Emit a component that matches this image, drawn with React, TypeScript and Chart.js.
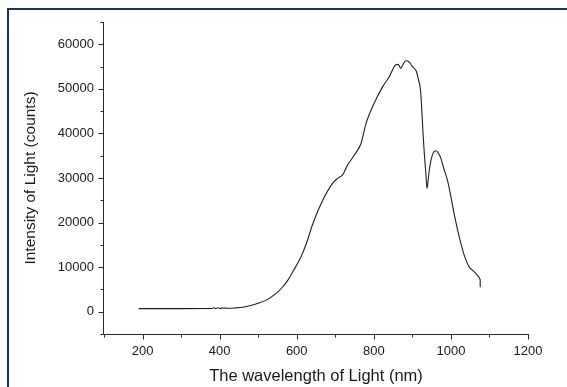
import React, { useEffect, useRef } from 'react';
import { Chart, registerables } from 'chart.js';

Chart.register(...registerables);

// Wavelength (nm)
const wavelengths = [
  190, 300, 380, 385, 390, 395, 400, 410, 420, 440, 460, 478, 500, 521, 545, 564,
  578, 590, 611, 625, 642, 668, 693, 706, 719, 732, 750, 767, 780, 801, 823, 840,
  857, 863, 870, 876, 883, 892, 900, 910, 916, 921, 924, 927, 931, 935, 938, 941,
  945, 952, 961, 968, 974, 982, 991, 1000, 1008, 1017, 1026, 1036, 1047, 1060, 1073, 1076,
  1076,
];
// Intensity (counts)
const intensities = [
  700, 700, 720, 900, 700, 900, 750, 850, 780, 850, 1000, 1350, 1900, 2600, 4000, 5600,
  7200, 9000, 12300, 15300, 19800, 25100, 28800, 29900, 30700, 32900, 35200, 37800, 42300, 46800, 50500, 52700,
  55400, 55500, 54600, 55500, 56300, 56000, 55000, 54000, 52000, 49800, 46000, 41000, 35500, 31000, 27700, 29500,
  32500, 35200, 36100, 35500, 34400, 32000, 29500, 25800, 22100, 18500, 15300, 12300, 10100, 9000, 7700, 7200,
  5500,
];

const X_MIN = 100;
const X_MAX = 1200;
const X_STEP = 100;
const X_MAJOR = 200;
const Y_MIN = -5000;
const Y_MAX = 65000;
const Y_STEP = 5000;
const Y_MAJOR = 10000;

const X_TITLE = 'The wavelength of Light (nm)';
const Y_TITLE = 'Intensity of Light (counts)';

const FONT = "'Liberation Sans', Arial, sans-serif";
const AXIS_COLOR = '#2a2a2a';

const decorPlugin = {
  id: 'decor',
  afterDraw(chart: any) {
    const ctx = chart.ctx;
    const { left, right, top, bottom } = chart.chartArea;
    const xs = chart.scales.x;
    const ys = chart.scales.y;
    ctx.save();
    ctx.strokeStyle = AXIS_COLOR;
    ctx.lineWidth = 1;
    ctx.beginPath();
    const lx = Math.round(left) - 0.5;
    const by = Math.round(bottom) + 0.5;
    ctx.moveTo(lx, Math.round(top));
    ctx.lineTo(lx, by);
    ctx.lineTo(Math.round(right) + 1, by);
    ys.ticks.forEach((t: any) => {
      const p = Math.round(ys.getPixelForValue(t.value)) + 0.5;
      const len = t.value % Y_MAJOR === 0 ? 5 : 3;
      ctx.moveTo(lx - len, p);
      ctx.lineTo(lx, p);
    });
    xs.ticks.forEach((t: any) => {
      const p = Math.round(xs.getPixelForValue(t.value)) + 0.5;
      const len = t.value % X_MAJOR === 0 ? 5 : 3;
      ctx.moveTo(p, by);
      ctx.lineTo(p, by + len);
    });
    ctx.stroke();
    ctx.fillStyle = '#1c2f6b';
    ctx.fillRect(7, 8, 560, 2);
    ctx.fillRect(7, 8, 2, 379);
    ctx.restore();
  },
};

export default function App() {
  const ref = useRef<HTMLCanvasElement | null>(null);

  useEffect(() => {
    if (!ref.current) return;
    const points = wavelengths.map((w, i) => ({ x: w, y: intensities[i] }));
    const chart = new Chart(ref.current, {
      type: 'line',
      data: {
        datasets: [
          {
            data: points,
            borderColor: '#1e1e1e',
            borderWidth: 1.1,
            pointRadius: 0,
            fill: false,
            cubicInterpolationMode: 'monotone',
          },
        ],
      },
      options: {
        animation: false,
        responsive: false,
        maintainAspectRatio: false,
        layout: { padding: { left: 0, top: 22, right: 39, bottom: 0 } },
        plugins: {
          legend: { display: false },
          tooltip: { enabled: false },
        },
        scales: {
          x: {
            type: 'linear',
            min: X_MIN,
            max: X_MAX,
            grid: { display: false, drawTicks: false },
            border: { display: false },
            ticks: {
              stepSize: X_STEP,
              autoSkip: false,
              maxRotation: 0,
              padding: 10,
              color: '#1a1a1a',
              font: { family: FONT, size: 13 },
              callback: (v: any) => (v % X_MAJOR === 0 && v >= 200 ? String(v) : ''),
            },
            title: {
              display: true,
              text: X_TITLE,
              color: '#1a1a1a',
              font: { family: FONT, size: 16.5 },
              padding: { top: 0, bottom: 1 },
            },
            afterFit: (s: any) => {
              s.height = 53;
            },
          },
          y: {
            type: 'linear',
            min: Y_MIN,
            max: Y_MAX,
            grid: { display: false, drawTicks: false },
            border: { display: false },
            ticks: {
              stepSize: Y_STEP,
              autoSkip: false,
              padding: 10,
              color: '#1a1a1a',
              font: { family: FONT, size: 13 },
              callback: (v: any) => (v % Y_MAJOR === 0 ? String(v) : ''),
            },
            title: {
              display: true,
              text: Y_TITLE,
              color: '#1a1a1a',
              font: { family: FONT, size: 15.5 },
              padding: { top: 21, bottom: 0 },
            },
            afterFit: (s: any) => {
              s.width = 104;
            },
          },
        },
      },
      plugins: [decorPlugin],
    } as any);
    return () => chart.destroy();
  }, []);

  return (
    <div style={{ position: 'absolute', left: 0, top: 0, width: 567, height: 387, background: '#fff' }}>
      <canvas ref={ref} width={567} height={387} style={{ display: 'block' }} />
    </div>
  );
}
